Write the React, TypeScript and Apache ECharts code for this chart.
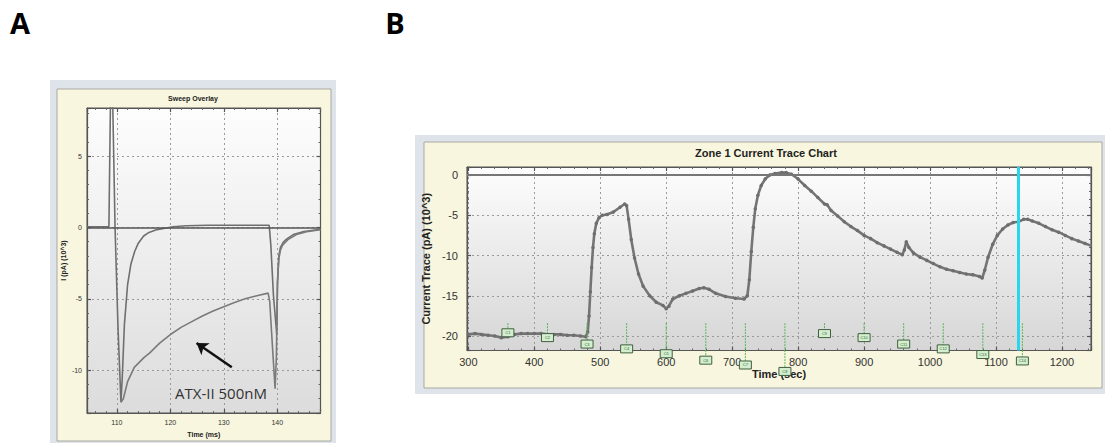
import React, { useEffect, useRef } from "react";
import * as echarts from "echarts";

// ---------- Panel A : Sweep Overlay ----------
const controlTime = [104.4, 108.5, 108.8, 109.2, 109.65, 110.2, 110.75, 111.0, 111.4, 112.0, 112.6, 113.3, 114.0, 115.0, 116.0, 117.5, 119.0, 120.5, 123.0, 127.0, 132.0, 136.0, 138.5, 138.8, 139.3, 139.9, 140.05, 140.3, 140.6, 141.2, 141.8, 143.0, 145.0, 148.1];
const controlCurrent = [0.05, 0.05, 9.0, 9.0, 0.0, -7.0, -12.25, -10.5, -6.8, -4.0, -2.6, -1.7, -1.1, -0.6, -0.35, -0.15, -0.05, 0.05, 0.12, 0.15, 0.15, 0.15, 0.15, -1.2, -4.8, -7.45, -4.0, -2.0, -1.4, -1.0, -0.8, -0.5, -0.28, -0.12];
const atxTime = [110.75, 111.2, 112.0, 113.25, 115.1, 116.1, 118.0, 120.0, 122.0, 124.0, 126.0, 128.0, 130.0, 132.0, 134.0, 136.0, 138.3, 138.6, 139.1, 139.6, 139.85, 140.05, 140.3, 140.6, 141.0, 142.0, 143.6, 145.5, 148.1];
const atxCurrent = [-12.25, -12.0, -10.8, -9.8, -9.1, -8.8, -8.1, -7.5, -7.0, -6.6, -6.2, -5.85, -5.55, -5.25, -5.0, -4.8, -4.6, -5.2, -8.3, -11.3, -9.0, -3.7, -2.2, -1.6, -1.25, -0.85, -0.5, -0.3, -0.15];
const arrowTail = [131.5, -9.8];
const arrowHead = [124.9, -8.1];
const annotationText = "ATX-II 500nM";

// ---------- Panel B : Zone 1 Current Trace Chart ----------
const traceTime = [300, 310, 320, 330, 340, 350, 360, 370, 380, 390, 400, 410, 420, 430, 440, 450, 460, 470, 478, 481, 483, 485, 487, 489, 491, 494, 498, 503, 510, 520, 530, 537, 540, 543, 547, 552, 558, 565, 575, 585, 595, 600, 604, 610, 620, 630, 640, 650, 657, 665, 675, 690, 705, 718, 723, 726, 729, 732, 735, 739, 744, 750, 757, 765, 775, 782, 790, 800, 810, 820, 830, 840, 844, 850, 860, 870, 880, 890, 900, 910, 920, 930, 940, 950, 958, 961, 964, 968, 975, 985, 995, 1005, 1015, 1025, 1035, 1045, 1055, 1065, 1075, 1079, 1083, 1088, 1095, 1102, 1110, 1118, 1126, 1134, 1142, 1148, 1155, 1165, 1175, 1185, 1195, 1205, 1215, 1225, 1235, 1245];
const traceCurrent = [-19.8, -19.7, -19.8, -19.9, -20.0, -20.2, -20.1, -19.8, -19.7, -19.7, -19.7, -19.7, -19.8, -19.8, -19.8, -19.9, -19.9, -20.0, -20.1, -19.5, -17.5, -14.5, -11.5, -9.0, -7.3, -6.0, -5.3, -5.0, -4.9, -4.6, -4.0, -3.6, -3.8, -5.5, -8.0, -10.3, -12.3, -13.8, -15.0, -15.8, -16.2, -16.6, -16.3, -15.4, -15.0, -14.7, -14.4, -14.1, -14.0, -14.2, -14.7, -15.1, -15.3, -15.4, -15.0, -13.0, -9.5, -6.5, -4.2, -2.5, -1.3, -0.5, 0.0, 0.2, 0.3, 0.3, 0.1, -0.5, -1.3, -2.0, -2.8, -3.6, -3.7, -4.4, -5.1, -5.8, -6.4, -6.9, -7.5, -7.9, -8.4, -8.8, -9.2, -9.6, -9.9, -9.3, -8.3, -9.0, -9.7, -10.2, -10.6, -11.0, -11.4, -11.7, -11.9, -12.1, -12.3, -12.4, -12.6, -12.8, -11.8, -10.2, -8.6, -7.5, -6.7, -6.2, -5.9, -5.8, -5.5, -5.5, -5.7, -6.0, -6.4, -6.8, -7.1, -7.5, -7.9, -8.2, -8.5, -8.8];
const cursorTime = 1134;
const markerTime = [360, 420, 480, 540, 600, 660, 720, 780, 840, 900, 960, 1020, 1080, 1140];
const markerLevel = [-19.6, -20.2, -21.0, -21.6, -22.2, -23.0, -23.6, -24.4, -19.7, -20.2, -21.0, -21.6, -22.3, -23.1];
const markerLabel = ["C1", "C2", "C3", "C4", "C5", "C6", "C7", "C8", "C9", "C10", "C11", "C12", "C13", "C14"];
const markerLineTop = -18.4;

const FONT = "Liberation Sans, Arial, sans-serif";

function zip(a: number[], b: number[]) {
  return a.map((v, i) => [v, b[i]]);
}

function axis(opts: any) {
  const { gridIndex, position, min, max, step, fontSize, showLabel, name, nameGap, split } = opts;
  return {
    type: "value",
    gridIndex,
    position,
    min,
    max,
    minInterval: step,
    maxInterval: step,
    splitNumber: 5,
    name: name || "",
    nameLocation: "middle",
    nameGap: nameGap || 0,
    nameTextStyle: { fontFamily: FONT, fontWeight: "bold", fontSize: fontSize, color: "#222" },
    axisLine: { show: true, onZero: false, lineStyle: { color: "#555", width: 1.2 } },
    axisTick: { show: true, inside: true, length: 4, lineStyle: { color: "#555", width: 1.2 } },
    minorTick: { show: true, splitNumber: 5, length: 2, lineStyle: { color: "#666", width: 1 } },
    splitLine: { show: !!split, lineStyle: { color: "#9a9a9a", width: 1, type: [2, 3] } },
    axisLabel: {
      show: !!showLabel,
      showMinLabel: false,
      showMaxLabel: false,
      fontFamily: FONT,
      fontSize: fontSize,
      color: "#333",
      margin: opts.margin || 5,
      formatter: (v: number) => String(v),
    },
  };
}

export default function App() {
  const ref = useRef<HTMLDivElement>(null);
  useEffect(() => {
    document.body.style.margin = "0";
    const chart = echarts.init(ref.current!, null, { renderer: "svg" });
    const bgA = new echarts.graphic.LinearGradient(0, 0, 0, 1, [
      { offset: 0, color: "#fdfdfd" },
      { offset: 1, color: "#dcdcdc" },
    ]);
    const bgB = new echarts.graphic.LinearGradient(0, 0, 0, 1, [
      { offset: 0, color: "#fdfdfd" },
      { offset: 1, color: "#d6d6d6" },
    ]);
    const option: any = {
      animation: false,
      backgroundColor: "#ffffff",
      grid: [
        { left: 87, top: 108, width: 233.5, height: 305, show: true, backgroundColor: bgA, borderColor: "#555", borderWidth: 1 },
        { left: 467, top: 167, width: 624, height: 183.5, show: true, backgroundColor: bgB, borderColor: "#555", borderWidth: 1 },
      ],
      xAxis: [
        axis({ gridIndex: 0, position: "bottom", min: 104.4, max: 148.1, step: 10, fontSize: 7, showLabel: true, name: "Time (ms)", nameGap: 17, split: true, margin: 6 }),
        axis({ gridIndex: 0, position: "top", min: 104.4, max: 148.1, step: 10, fontSize: 7 }),
        axis({ gridIndex: 1, position: "bottom", min: 298, max: 1244, step: 100, fontSize: 11, showLabel: true, name: "Time (sec)", nameGap: 11, split: true, margin: 6 }),
        axis({ gridIndex: 1, position: "top", min: 298, max: 1244, step: 100, fontSize: 11 }),
      ],
      yAxis: [
        axis({ gridIndex: 0, position: "left", min: -13, max: 8.37, step: 5, fontSize: 7, showLabel: true, name: "I (pA) (10^3)", nameGap: 20, split: true, margin: 5 }),
        axis({ gridIndex: 0, position: "right", min: -13, max: 8.37, step: 5, fontSize: 7 }),
        axis({ gridIndex: 1, position: "left", min: -21.8, max: 1, step: 5, fontSize: 11, showLabel: true, name: "Current Trace (pA) (10^3)", nameGap: 30, split: true, margin: 9 }),
        axis({ gridIndex: 1, position: "right", min: -21.8, max: 1, step: 5, fontSize: 11 }),
      ],
      series: [
        {
          type: "line",
          name: "Control",
          xAxisIndex: 0,
          yAxisIndex: 0,
          data: zip(controlTime, controlCurrent),
          showSymbol: false,
          lineStyle: { color: "#6f6f6f", width: 1.6 },
          markLine: {
            silent: true,
            symbol: ["none", "none"],
            label: { show: false },
            lineStyle: { color: "#555", width: 1.6, type: "solid" },
            data: [{ yAxis: 0 }],
          },
        },
        {
          type: "line",
          name: "ATX-II",
          xAxisIndex: 0,
          yAxisIndex: 0,
          data: zip(atxTime, atxCurrent),
          showSymbol: false,
          lineStyle: { color: "#7a7a7a", width: 1.6 },
          markLine: {
            silent: true,
            symbol: ["none", "arrow"],
            symbolSize: 11,
            label: { show: false },
            lineStyle: { color: "#111", width: 2.5, type: "solid" },
            data: [[{ coord: arrowTail }, { coord: arrowHead }]],
          },
        },
        {
          type: "line",
          name: "Zone 1",
          xAxisIndex: 2,
          yAxisIndex: 2,
          data: zip(traceTime, traceCurrent),
          showSymbol: true,
          symbol: "circle",
          symbolSize: 3.5,
          itemStyle: { color: "#6e6e6e" },
          lineStyle: { color: "#747474", width: 2.6 },
          z: 3,
          markLine: {
            silent: true,
            symbol: ["none", "none"],
            label: { show: false },
            data: [
              { yAxis: 0, lineStyle: { color: "#777", width: 2, type: "solid" } },
              { xAxis: cursorTime, lineStyle: { color: "#2ad6ec", width: 3, type: "solid" } },
            ],
          },
        },
        {
          type: "custom",
          name: "Markers",
          xAxisIndex: 2,
          yAxisIndex: 2,
          clip: false,
          z: 4,
          data: zip(markerTime, markerLevel),
          renderItem: (params: any, api: any) => {
            const x = api.value(0);
            const yb = api.value(1);
            const top = api.coord([x, markerLineTop]);
            const box = api.coord([x, yb]);
            return {
              type: "group",
              children: [
                {
                  type: "line",
                  shape: { x1: top[0], y1: top[1], x2: box[0], y2: box[1] },
                  style: { stroke: "#58b85a", lineWidth: 1, lineDash: [2, 1] },
                },
                {
                  type: "rect",
                  shape: { x: box[0] - 6, y: box[1] - 4, width: 12, height: 8 },
                  style: { fill: "#d4eecf", stroke: "#3f5f3f", lineWidth: 1 },
                },
                {
                  type: "text",
                  style: {
                    text: markerLabel[params.dataIndex],
                    x: box[0],
                    y: box[1],
                    align: "center",
                    verticalAlign: "middle",
                    fontSize: 4,
                    fontFamily: FONT,
                    fill: "#2f6a2f",
                  },
                },
              ],
            };
          },
        },
      ],
      graphic: [
        { type: "rect", z: -10, shape: { x: 50, y: 80, width: 286, height: 363 }, style: { fill: "#dfe3ea" } },
        { type: "rect", z: -9, shape: { x: 57, y: 89, width: 274, height: 352 }, style: { fill: "#f8f6de", stroke: "#a9a9a2", lineWidth: 1 } },
        { type: "rect", z: -10, shape: { x: 415, y: 135, width: 690, height: 259 }, style: { fill: "#dfe3ea" } },
        { type: "rect", z: -9, shape: { x: 424, y: 142, width: 678, height: 246 }, style: { fill: "#f8f6de", stroke: "#a9a9a2", lineWidth: 1 } },
        { type: "text", z: 100, x: 20, y: 22, style: { text: "A", fontFamily: "Open Sans, sans-serif", fontWeight: "bold", fontSize: 29, fill: "#000", align: "center", verticalAlign: "middle" } },
        { type: "text", z: 100, x: 395, y: 22, style: { text: "B", fontFamily: "Open Sans, sans-serif", fontWeight: "bold", fontSize: 29, fill: "#000", align: "center", verticalAlign: "middle" } },
        { type: "text", z: 100, x: 193, y: 98, style: { text: "Sweep Overlay", fontFamily: FONT, fontWeight: "bold", fontSize: 7, fill: "#222", align: "center", verticalAlign: "middle" } },
        { type: "text", z: 100, x: 766, y: 153, style: { text: "Zone 1 Current Trace Chart", fontFamily: FONT, fontWeight: "bold", fontSize: 11, fill: "#222", align: "center", verticalAlign: "middle" } },
        { type: "text", z: 100, x: 221, y: 393, style: { text: annotationText, fontFamily: "Open Sans, sans-serif", fontSize: 15, fill: "#333", align: "center", verticalAlign: "middle" } },
      ],
    };
    chart.setOption(option);
    return () => chart.dispose();
  }, []);
  return <div ref={ref} style={{ width: 1105, height: 443 }} />;
}
